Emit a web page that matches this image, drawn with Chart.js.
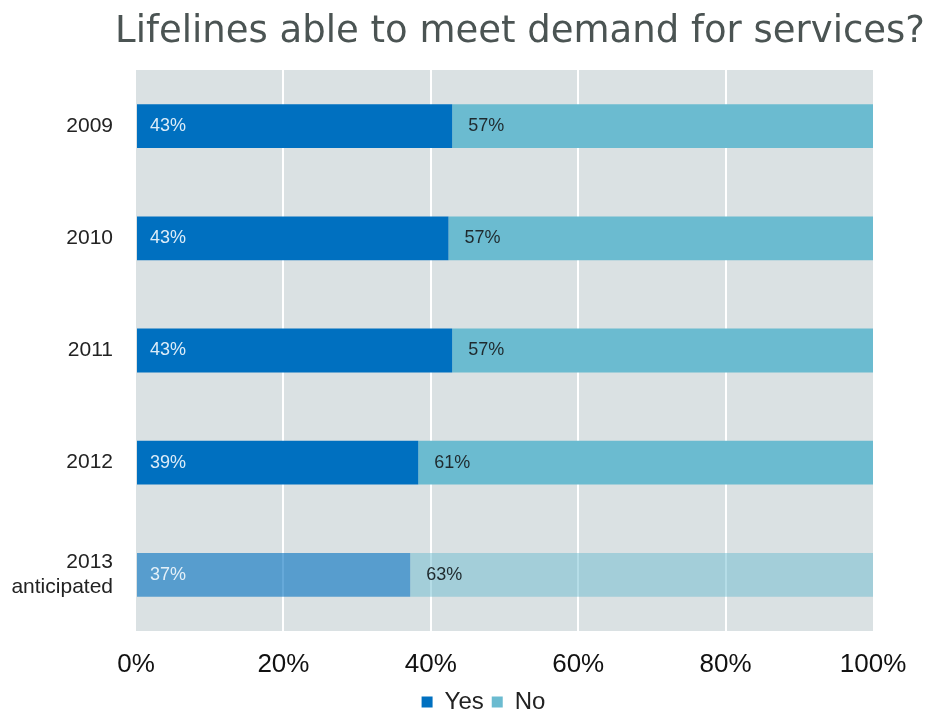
<!DOCTYPE html>
<html>
<head>
<meta charset="utf-8">
<script src="https://cdn.jsdelivr.net/npm/chart.js@4.4.1/dist/chart.umd.min.js"></script>
<style>
  html, body { margin: 0; padding: 0; background: #fff; }
  #wrap { width: 928px; height: 711px; }
</style>
</head>
<body>
<div id="wrap"><canvas id="lifelinesChart" width="928" height="711"></canvas></div>
<script>
// values (bar lengths), printed labels as shown
const chartTitle = 'Lifelines able to meet demand for services?';
const years = ['2009', '2010', '2011', '2012', ['2013', 'anticipated']];
const yesValues = [42.9, 42.4, 42.9, 38.3, 37.2];
const noValues = [57.1, 57.6, 57.1, 61.7, 62.8];
const yesLabels = ['43%', '43%', '43%', '39%', '37%'];
const noLabels = ['57%', '57%', '57%', '61%', '63%'];
const xTicks = [0, 20, 40, 60, 80, 100];

const FONT = "'Liberation Sans', Arial, sans-serif";

// grey plot background behind the bars
const plotBackground = {
  id: 'plotBackground',
  beforeDraw(chart) {
    const { ctx, chartArea } = chart;
    ctx.save();
    ctx.fillStyle = '#dae1e3';
    ctx.fillRect(chartArea.left, chartArea.top, chartArea.right - chartArea.left, chartArea.bottom - chartArea.top);
    ctx.restore();
  }
};

// legend in the reference sits a bit right of the plot centre
const legendShift = {
  id: 'legendShift',
  afterLayout(chart) {
    chart.legend.left += 47;
    chart.legend.right += 47;
  }
};

// title sits right-aligned near the canvas edge, wider than the plot
const titleText = {
  id: 'titleText',
  afterDraw(chart) {
    const { ctx } = chart;
    ctx.save();
    ctx.font = "37px 'DejaVu Sans', Verdana, sans-serif";
    ctx.fillStyle = '#4b5453';
    ctx.textAlign = 'right';
    ctx.textBaseline = 'alphabetic';
    ctx.fillText(chartTitle, 925, 42);
    ctx.restore();
  }
};

// percentage labels inside the bars
const barLabels = {
  id: 'barLabels',
  afterDatasetsDraw(chart) {
    const { ctx } = chart;
    ctx.save();
    ctx.font = '18px ' + FONT;
    ctx.textBaseline = 'middle';
    ctx.textAlign = 'left';
    chart.getDatasetMeta(0).data.forEach((bar, i) => {
      ctx.fillStyle = i === 4 ? '#e4f0f8' : '#dcecf8';
      ctx.fillText(yesLabels[i], bar.base + 13, bar.y);
    });
    chart.getDatasetMeta(1).data.forEach((bar, i) => {
      ctx.fillStyle = '#1f2a2e';
      ctx.fillText(noLabels[i], bar.base + 16, bar.y);
    });
    ctx.restore();
  }
};

const ctx = document.getElementById('lifelinesChart').getContext('2d');
new Chart(ctx, {
  type: 'bar',
  data: {
    labels: years,
    datasets: [
      {
        label: 'Yes',
        data: yesValues,
        backgroundColor: ['#0070c0', '#0070c0', '#0070c0', '#0070c0', 'rgba(0, 112, 192, 0.6)'],
        borderWidth: 0,
        barPercentage: 0.39,
        categoryPercentage: 1
      },
      {
        label: 'No',
        data: noValues,
        backgroundColor: ['#6bbbd0', '#6bbbd0', '#6bbbd0', '#6bbbd0', 'rgba(107, 187, 208, 0.5)'],
        borderWidth: 0,
        barPercentage: 0.39,
        categoryPercentage: 1
      }
    ]
  },
  options: {
    indexAxis: 'y',
    responsive: false,
    animation: false,
    layout: { padding: { left: 0, right: 55, top: 70, bottom: -13 } },
    plugins: {
      title: { display: false },
      legend: {
        position: 'bottom',
        labels: {
          color: '#222',
          font: { family: FONT, size: 24 },
          boxWidth: 11,
          boxHeight: 11,
          padding: 8
        }
      },
      tooltip: { enabled: false }
    },
    scales: {
      x: {
        stacked: true,
        min: 0,
        max: 100,
        afterBuildTicks(scale) {
          scale.ticks = xTicks.map(v => ({ value: v }));
        },
        afterFit(scale) {
          scale.height = 51;
        },
        ticks: {
          color: '#111',
          font: { family: FONT, size: 26 },
          padding: 18,
          callback: v => v + '%'
        },
        grid: {
          color: ctx => (ctx.tick && (ctx.tick.value === 0 || ctx.tick.value === 100)) ? 'rgba(0,0,0,0)' : '#ffffff',
          lineWidth: 2,
          drawTicks: false
        },
        border: { display: false }
      },
      y: {
        stacked: true,
        afterFit(scale) {
          scale.width = 136;
        },
        ticks: {
          color: '#222',
          font: { family: FONT, size: 21 },
          padding: 23
        },
        grid: { display: false, drawTicks: false },
        border: { display: false }
      }
    }
  },
  plugins: [plotBackground, legendShift, barLabels, titleText]
});
</script>
</body>
</html>
